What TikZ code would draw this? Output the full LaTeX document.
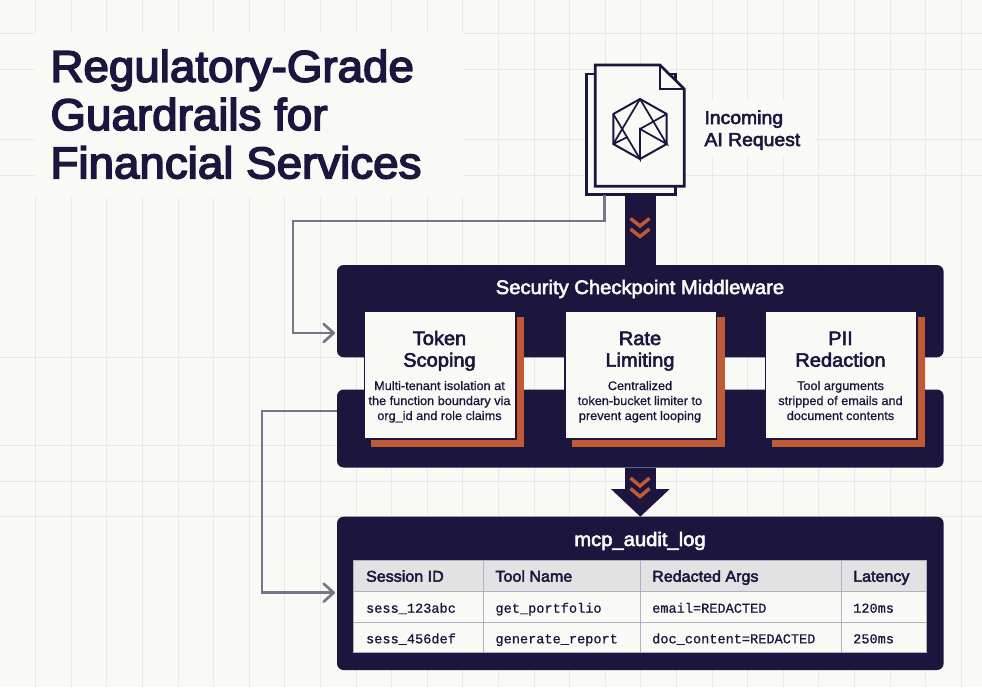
\documentclass[tikz,border=0pt]{standalone}
\usepackage{fontspec}
\setmainfont{Liberation Sans}
\setmonofont[FakeBold=0.8]{Liberation Mono}
\newfontfamily\semifont[FakeBold=3.6,FakeStretch=1.03]{Liberation Sans}
\newfontfamily\medfont[FakeBold=2.9,FakeStretch=1.03]{Liberation Sans}
\newfontfamily\bodyfont[FakeBold=0.8,FakeStretch=1.025]{Liberation Sans}
\usetikzlibrary{arrows.meta}

\definecolor{paper}{RGB}{249,249,245}
\definecolor{gridcol}{RGB}{232,232,232}
\definecolor{ink}{RGB}{28,22,62}
\definecolor{rust}{RGB}{192,90,53}
\definecolor{wirecol}{RGB}{118,117,138}
\definecolor{headcol}{RGB}{227,226,226}
\definecolor{rulecol}{RGB}{176,176,192}

\tikzset{every picture/.style={line width=0.75pt},
  gridline/.style={draw=gridcol,line width=0.6pt},
  wire/.style={draw=wirecol,line width=2pt,line join=miter,shorten >=1.5pt,
    -{Straight Barb[length=7.5pt,width=13.5pt,line width=2pt,round]}},
  stem/.style={draw=ink,line width=23.25pt},
  chevron/.style={draw=rust,line width=2.6pt},
  panel/.style={fill=ink,rounded corners=5pt,inner sep=0pt,outer sep=0pt,anchor=north west,minimum width=455pt},
  card/.style={fill=paper,draw=ink,line width=1.1pt,inner sep=0pt,outer sep=0pt,anchor=north west,minimum width=113.6pt,minimum height=96pt},
  cardshadow/.style={fill=rust,inner sep=0pt,outer sep=0pt,anchor=north west,minimum width=114.7pt,minimum height=97.8pt},
  cardhead/.style={text=ink,align=center,font=\medfont\fontsize{14.6}{16.3}\selectfont,anchor=base,inner sep=0pt},
  cardtext/.style={text=ink,align=center,font=\bodyfont\fontsize{9.3}{11.25}\selectfont,anchor=base,inner sep=0pt},
  paneltitle/.style={text=paper,font=\medfont\fontsize{14.7}{16}\selectfont,anchor=base,inner sep=0pt},
  colhead/.style={text=ink,font=\medfont\fontsize{11.7}{14}\selectfont,anchor=base west,inner sep=0pt},
  cell/.style={text=ink,font=\ttfamily\fontsize{10.2}{12}\selectfont,anchor=base west,inner sep=0pt}}

\begin{document}
\begin{tikzpicture}[x=0.75pt,y=0.75pt,yscale=-1,xscale=1]
\useasboundingbox (0,0) rectangle (982,687);
\fill [paper] (0,0) rectangle (982,687);

%Grid Lines
\foreach \k in {1,...,27} \draw [gridline] (35.6*\k,0) -- (35.6*\k,687);
\foreach \y in {33,69,139,175,357,445,481,516} \draw [gridline] (0,\y) -- (982,\y);
%Shape: Rectangle, clear space behind the texts
\fill [paper] (35,32) rectangle (463,198);
\fill [paper] (687,100) rectangle (815,157);

% Text Node
\node (title) [anchor=base west,inner sep=0pt,align=left,text=ink,font=\semifont\fontsize{33.3}{36.2}\selectfont] at (50,178.3) {Regulatory-Grade\\Guardrails for\\Financial Services};

%Shape: Rectangle
\node (midtop) [panel,minimum height=69.2pt] at (337,265) {};
\node (midlow) [panel,minimum height=58.5pt] at (337,389.5) {};
\node (audit) [panel,minimum height=115pt] at (337,516.7) {};

%Shape: Document
\node (docback) [fill=paper,draw=ink,line width=2pt,inner sep=0pt,outer sep=0pt,anchor=north west,minimum width=66.8pt,minimum height=90.5pt] at (586.7,74) {};
\draw [fill=paper,draw=ink,line width=2pt] (595.3,65) -- (660,65) -- (684.3,89) -- (684.3,186.3) -- (595.3,186.3) -- cycle ;
\draw [draw=ink,line width=2pt] (660,65) -- (660,89) -- (684.3,89) ;

%Shape: Hexagon
\draw [draw=ink,line width=1.5pt,line join=round] (640,99) -- (666.7,114) -- (666.7,144) -- (640,159) -- (613.3,144) -- (613.3,114) -- cycle ;
\draw [draw=ink,line width=1.3pt,line join=round] (640,99) -- (613.3,144) -- (627.5,137) ;
\draw [draw=ink,line width=1.3pt] (640,99) -- (666.7,144) -- (640,129) -- (640,159) -- (613.3,114) ;
\draw [draw=ink,line width=1.3pt] (640,129) -- (666.7,114) ;

% Text Node
\node (request) [anchor=base west,inner sep=0pt,align=left,text=ink,font=\medfont\fontsize{14.1}{16.5}\selectfont] at (704,146) {Incoming\\AI Request};

%Straight Lines
\coordinate (elbowa) at (604.7,221);
\coordinate (elbowb) at (293,221);
\coordinate (elbowc) at (293,333);
\draw [wire] (elbowa |- docback.south) -- (elbowa) -- (elbowb) -- (elbowc) -- (elbowc -| midtop.west) ;
\coordinate (elbowd) at (262,411);
\coordinate (elbowe) at (262,592.7);
\draw [wire] (elbowd -| midlow.west) -- (elbowd) -- (elbowe) -- (elbowe -| audit.west) ;

%Straight Lines
\coordinate (stemtop) at (640,195);
\draw [stem] (stemtop) -- (stemtop |- midtop.north) ;
\draw [stem,-{Triangle[length=20.6pt,width=42.5pt]}] (midlow.south) -- (audit.north) ;
\draw [chevron] (630.5,218.5) -- (640,226) -- (649.5,218.5) ;
\draw [chevron] (630.5,229) -- (640,236.5) -- (649.5,229) ;
\draw [chevron] (630.5,478) -- (640,486) -- (649.5,478) ;
\draw [chevron] (630.5,488.5) -- (640,496.5) -- (649.5,488.5) ;

% Text Node
\node (midtitle) [paneltitle] at (640,294) {Security Checkpoint Middleware};

%Shape: Rectangle
\node (shadowa) [cardshadow] at (370.7,316.7) {};
\node (carda) [card] at (364.3,311) {};
\node (shadowb) [cardshadow] at (571.7,316.7) {};
\node (cardb) [card] at (565,311) {};
\node (shadowc) [cardshadow] at (771.7,316.7) {};
\node (cardc) [card] at (765.3,311) {};

% Text Node
\node (heada) [cardhead] at (439.5,366.7) {Token\\Scoping};
\node (headb) [cardhead] at (640,366.7) {Rate\\Limiting};
\node (headc) [cardhead] at (840.5,366.7) {PII\\Redaction};
\node (texta) [cardtext] at (439.5,420) {Multi-tenant isolation at\\the function boundary via\\org\_id and role claims};
\node (textb) [cardtext] at (640,420) {Centralized\\token-bucket limiter to\\prevent agent looping};
\node (textc) [cardtext] at (840.5,420) {Tool arguments\\stripped of emails and\\document contents};

% Text Node
\node (audittitle) [paneltitle] at (640,546) {mcp\_audit\_log};

%Shape: Table
\node (logtable) [fill=paper,inner sep=0pt,outer sep=0pt,anchor=north west,minimum width=430pt,minimum height=69pt] at (353.3,560.7) {};
\fill [headcol] (353.3,560.7) rectangle (926.7,591.3);
\draw [draw=rulecol,line width=0.8pt] (353.3,560.7) rectangle (926.7,652.7);
\foreach \y in {591.3,622.3} \draw [draw=rulecol,line width=0.8pt] (353.3,\y) -- (926.7,\y);
\foreach \x in {483.3,640.3,841.7} \draw [draw=rulecol,line width=0.8pt] (\x,560.7) -- (\x,652.7);

% Text Node
\node (cola) [colhead] at (365.6,581.7) {Session ID};
\node (colb) [colhead] at (495,581.7) {Tool Name};
\node (colc) [colhead] at (651.7,581.7) {Redacted Args};
\node (cold) [colhead] at (852.7,581.7) {Latency};
\node (cella) [cell] at (365.6,612.7) {sess\_123abc};
\node (cellb) [cell] at (495,612.7) {get\_portfolio};
\node (cellc) [cell] at (651.7,612.7) {email=REDACTED};
\node (celld) [cell] at (852.7,612.7) {120ms};
\node (celle) [cell] at (365.6,643.3) {sess\_456def};
\node (cellf) [cell] at (495,643.3) {generate\_report};
\node (cellg) [cell] at (651.7,643.3) {doc\_content=REDACTED};
\node (cellh) [cell] at (852.7,643.3) {250ms};

\end{tikzpicture}
\end{document}
